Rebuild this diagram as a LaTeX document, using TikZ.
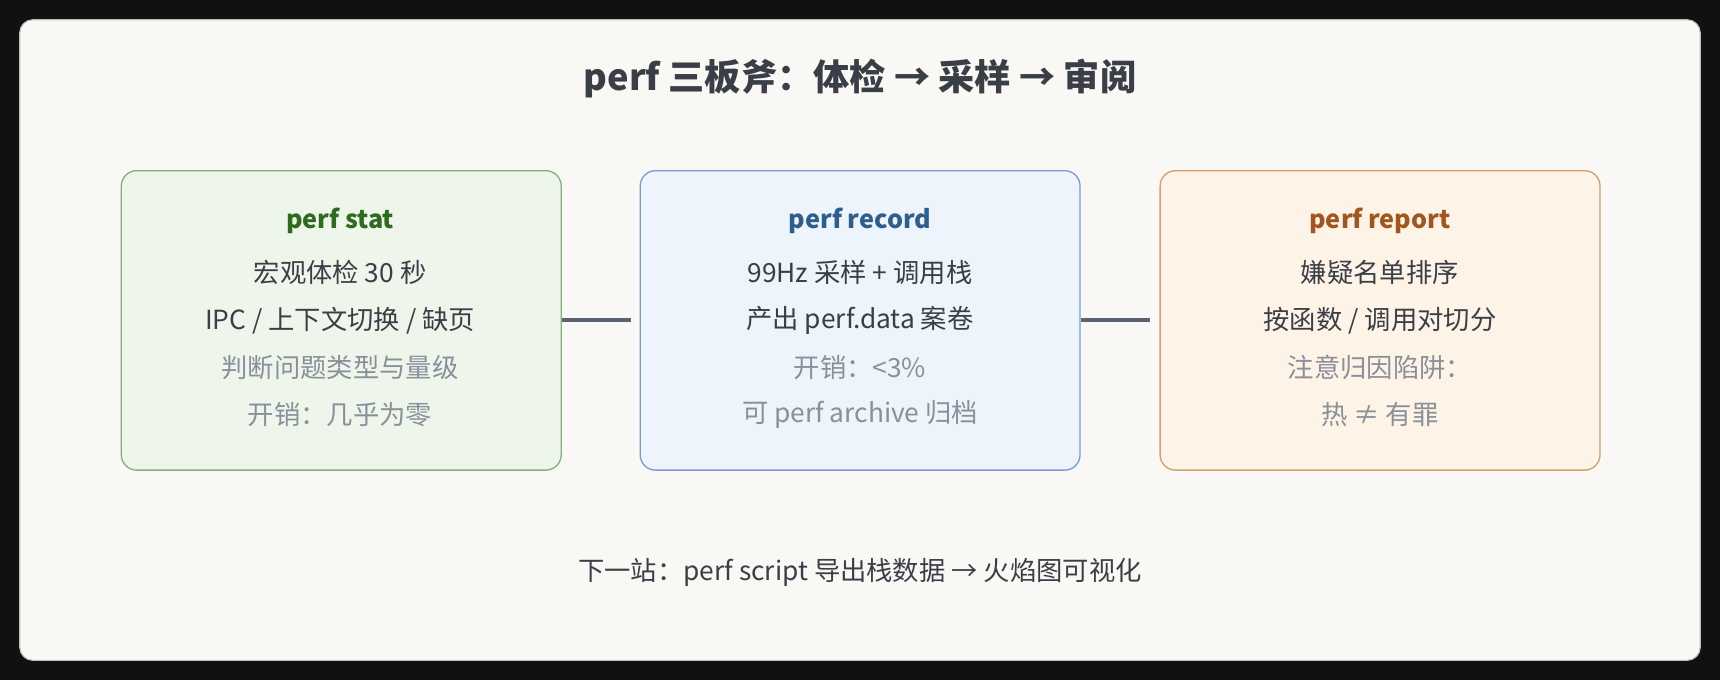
\documentclass[tikz,border=0pt]{standalone}
\usepackage{fontspec}
\setmainfont{Noto Sans CJK SC}
\definecolor{bg}{HTML}{111111}
\definecolor{panel}{HTML}{FAF8F4}
\definecolor{dk}{HTML}{3A3F47}
\definecolor{gy}{HTML}{8A9099}
\definecolor{ln}{HTML}{5A6470}
\definecolor{gf}{HTML}{EEF6EC}\definecolor{gb}{HTML}{7FB07F}\definecolor{gt}{HTML}{2E6B1E}
\definecolor{bf}{HTML}{EDF4FC}\definecolor{bb}{HTML}{7A9CCC}\definecolor{bt}{HTML}{2E5E8E}
\definecolor{of}{HTML}{FDF3E6}\definecolor{ob}{HTML}{D0A070}\definecolor{ot}{HTML}{A0561E}
\begin{document}
\begin{tikzpicture}[x=1pt,y=-1pt,
  card/.style={rounded corners=14pt,line width=1.2pt,minimum width=401pt,minimum height=273pt,anchor=north west},
  hd/.style={font=\fontsize{23}{27}\selectfont\bfseries},
  tx/.style={font=\fontsize{24}{28}\selectfont,text=dk},
  gt2/.style={font=\fontsize{24}{28}\selectfont,text=gy},
  conn/.style={line width=3.5pt,draw=ln}]
\fill[bg] (0,0) rectangle (1568,620);
\useasboundingbox (0,0) rectangle (1568,620);
\draw[fill=panel,draw=gray!50,rounded corners=12pt,line width=1pt] (18,18) rectangle (1550,602);
\node[font=\fontsize{33}{38}\selectfont\bfseries,text=dk] (title) at (784,72) {perf 三板斧：体检 → 采样 → 审阅};
\node[card,fill=gf,draw=gb] (a) at (110,155) {};
\node[card,fill=bf,draw=bb] (b) at (583,155) {};
\node[card,fill=of,draw=ob] (c) at (1057,155) {};
\draw[conn] (a.east) -- ([xshift=63pt]a.east);
\draw[conn] (b.east) -- ([xshift=63pt]b.east);
\node[hd,text=gt] (a0) at (310,201) {perf stat};
\node[tx] (a1) at (310,248) {宏观体检 30 秒};
\node[tx] (a2) at (310,292) {IPC / 上下文切换 / 缺页};
\node[gt2] (a3) at (310,335) {判断问题类型与量级};
\node[gt2] (a4) at (310,378) {开销：几乎为零};
\node[hd,text=bt] (b0) at (784,201) {perf record};
\node[tx] (b1) at (784,248) {99Hz 采样 + 调用栈};
\node[tx] (b2) at (784,292) {产出 perf.data 案卷};
\node[gt2] (b3) at (784,335) {开销：<3\%};
\node[gt2] (b4) at (784,378) {可 perf archive 归档};
\node[hd,text=ot] (c0) at (1258,201) {perf report};
\node[tx] (c1) at (1258,248) {嫌疑名单排序};
\node[tx] (c2) at (1258,292) {按函数 / 调用对切分};
\node[gt2] (c3) at (1258,335) {注意归因陷阱：};
\node[gt2] (c4) at (1258,378) {热 ≠ 有罪};
\node[tx] (foot) at (784,522) {下一站：perf script 导出栈数据 → 火焰图可视化};
\end{tikzpicture}
\end{document}
